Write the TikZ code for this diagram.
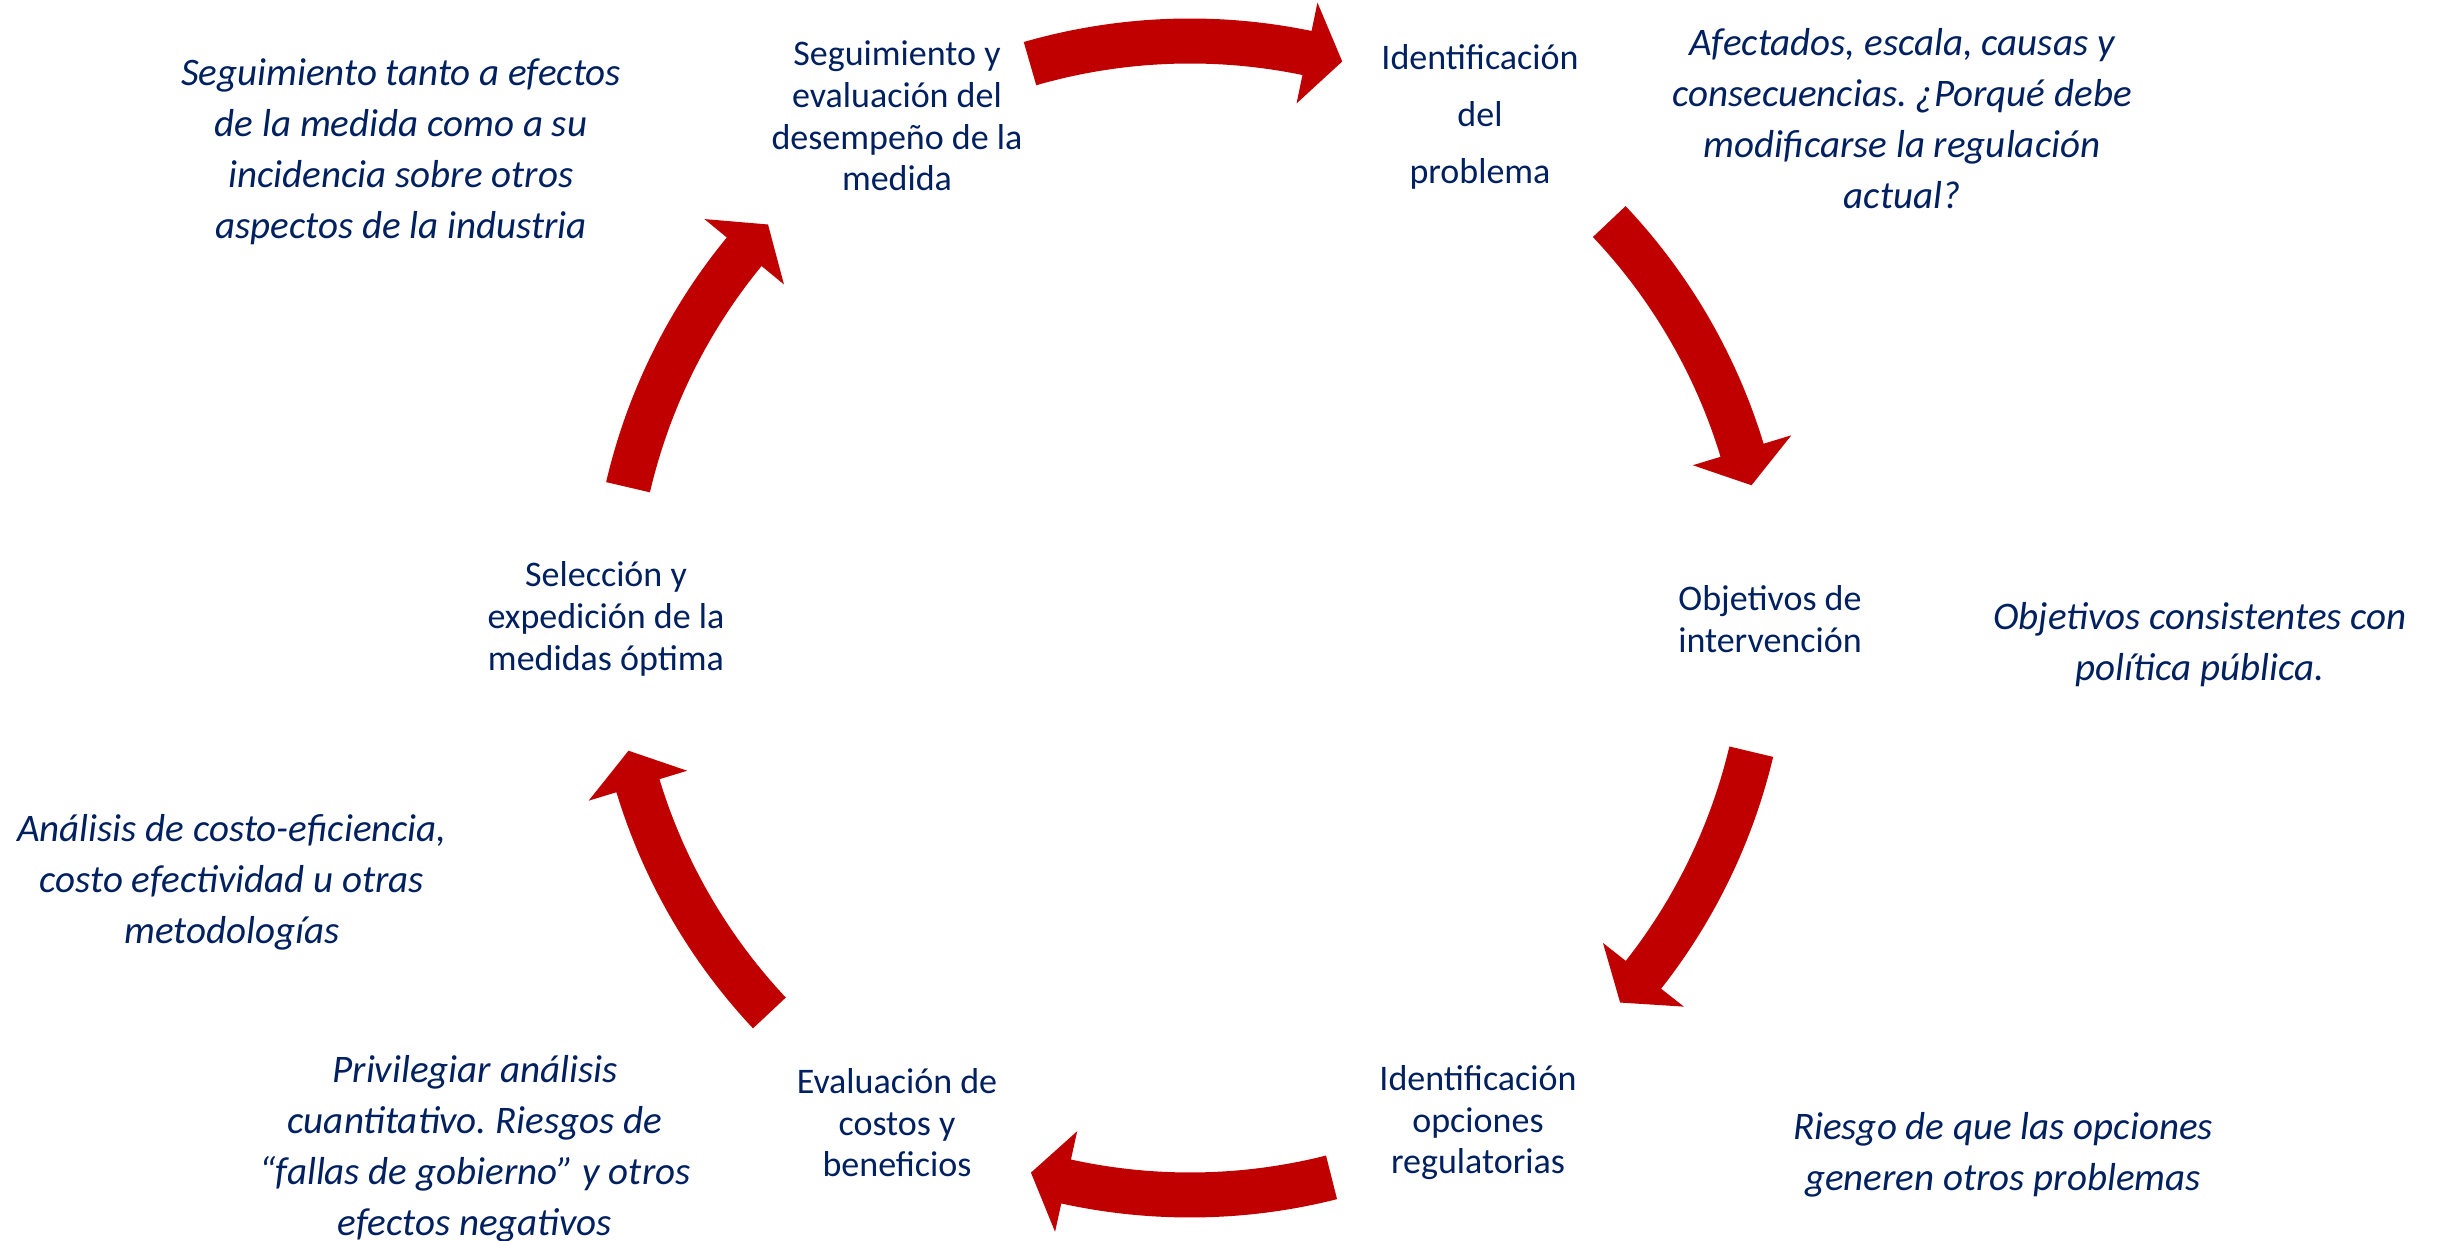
\documentclass[tikz,border=0pt]{standalone}
\usepackage{fontspec}
\setmainfont{Carlito}
\usepackage{xcolor}
\definecolor{navy}{HTML}{002060}
\definecolor{arrowred}{HTML}{C00000}
\frenchspacing

\tikzset{
  stepnode/.style={text=navy, align=center, inner sep=0pt,
    font=\fontsize{18}{20.8}\selectfont},
  notenode/.style={text=navy, align=center, inner sep=0pt,
    font=\fontsize{19.5}{25.5}\selectfont\itshape},
}

% thick curved arrow on the cycle: start angle, angle where the head begins
\newcommand*{\CycleArrow}[2]{%
  \pgfmathsetmacro{\TipAngle}{#2-3.6}%
  \fill[arrowred, shift={(hub)}] (#1:599.5) arc[start angle=#1, end angle=#2, radius=599.5]
    -- (#2:628.5) -- (\TipAngle:577) -- (#2:525.5) -- (#2:554.5)
    arc[start angle=#2, end angle=#1, radius=554.5] -- cycle;}

\begin{document}
\begin{tikzpicture}[x=0.5pt, y=0.5pt]
\useasboundingbox[fill=white] (0,0) rectangle (2437,1241);
\coordinate (hub) at (1190,623);

% Steps of the cycle
\node[stepnode] (seguimiento) at (897,1125) {Seguimiento y\\evaluación del\\desempeño de la\\medida};
\node[stepnode, font=\fontsize{18}{28.5}\selectfont] (problema) at (1480,1124) {Identificación\\del\\problema};
\node[stepnode] (objetivos) at (1770,622) {Objetivos de\\intervención};
\node[stepnode] (opciones) at (1478,118) {Identificación\\opciones\\regulatorias};
\node[stepnode] (evaluacion) at (897,118) {Evaluación de\\costos y\\beneficios};
\node[stepnode] (seleccion) at (606,622) {Selección y\\expedición de la\\medidas óptima};

% Notes
\node[notenode] (notaseg) at (401,1089) {Seguimiento tanto a efectos\\de la medida como a su\\incidencia sobre otros\\aspectos de la industria};
\node[notenode] (notaprob) at (1902,1122) {Afectados, escala, causas y\\consecuencias. ¿Porqué debe\\modificarse la regulación\\actual?};
\node[notenode] (notaobj) at (2200,596) {Objetivos consistentes con\\política pública.};
\node[notenode] (notasel) at (232,359) {Análisis de costo-eficiencia,\\costo efectividad u otras\\metodologías};
\node[notenode] (notaeval) at (475,92) {Privilegiar análisis\\cuantitativo. Riesgos de\\“fallas de gobierno” y otros\\efectos negativos};
\node[notenode] (notaopc) at (2003,86) {Riesgo de que las opciones\\generen otros problemas};

% Arrows
\CycleArrow{106.1}{78.3}
\CycleArrow{43.4}{16.9}
\CycleArrow{-13.4}{-38.2}
\CycleArrow{-75.8}{-102.4}
\CycleArrow{223.2}{196.9}
\CycleArrow{166.9}{140.6}
\end{tikzpicture}
\end{document}
